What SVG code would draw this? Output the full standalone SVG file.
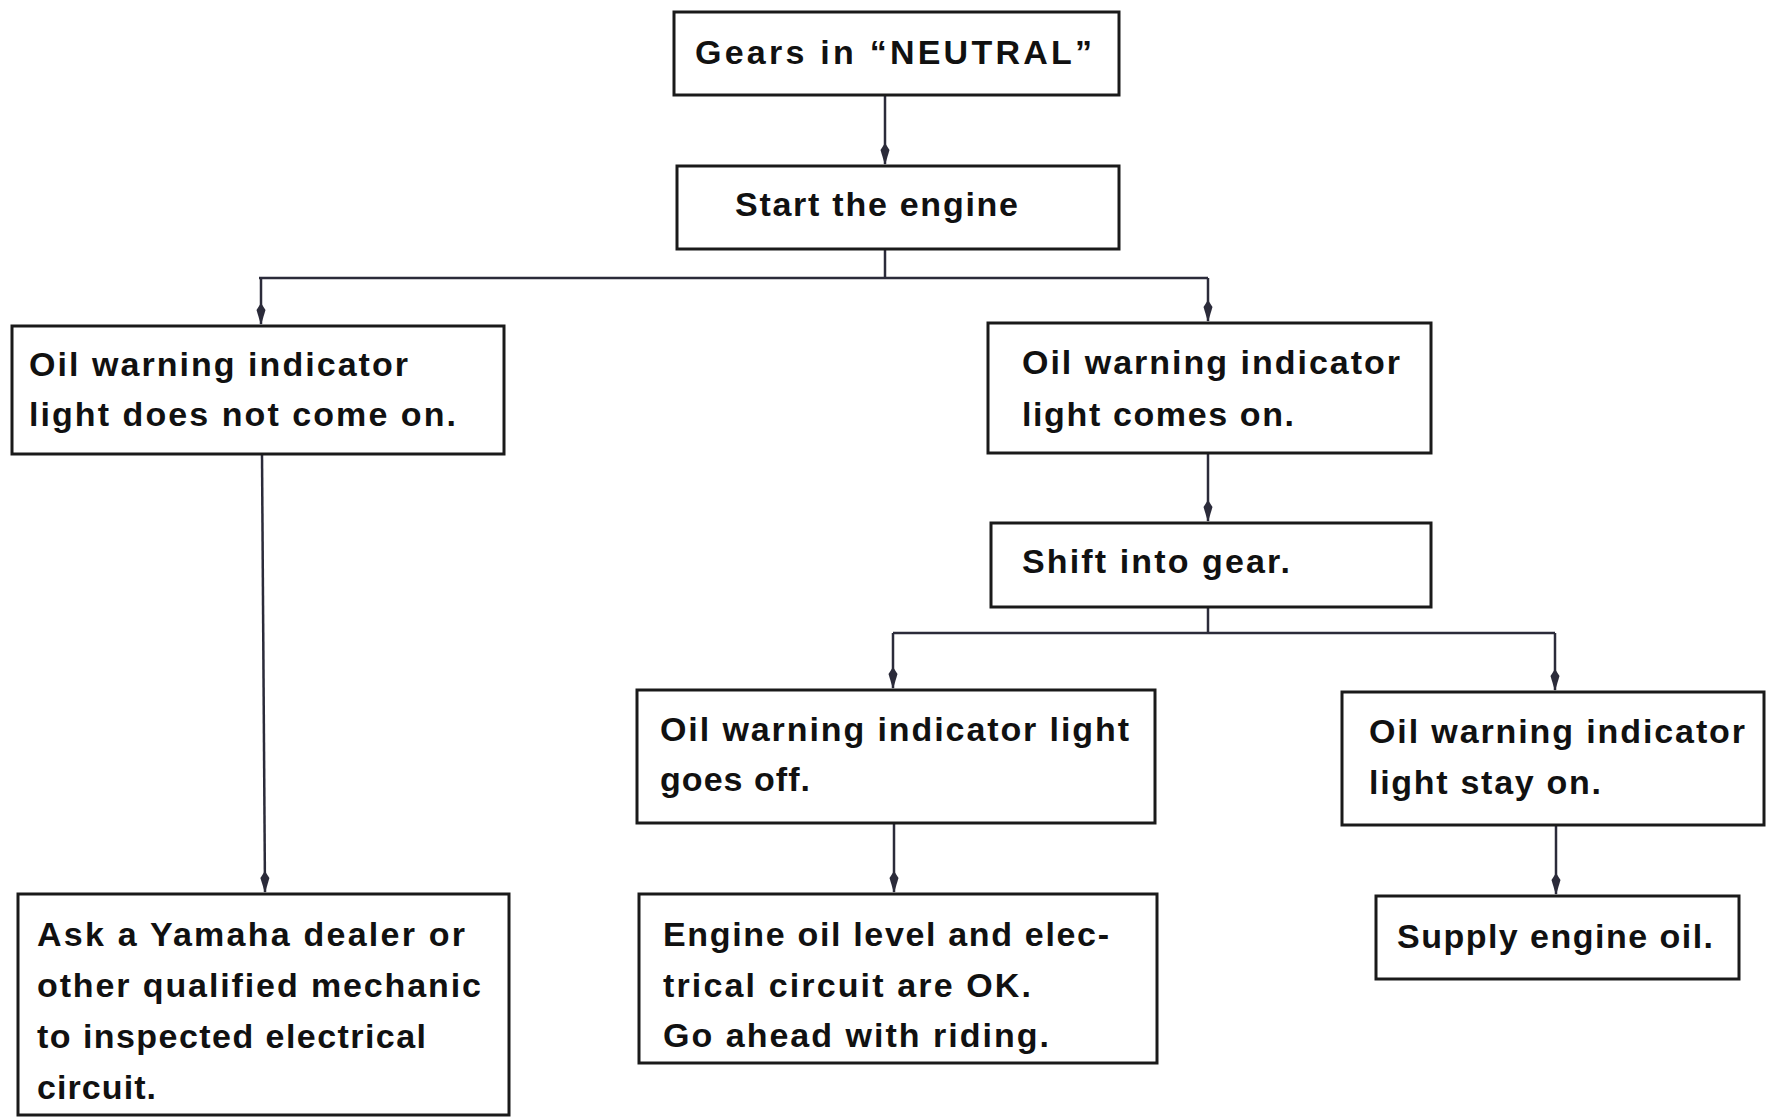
<svg xmlns="http://www.w3.org/2000/svg" width="1767" height="1117" viewBox="0 0 1767 1117">
  <style>
    .box { fill: #ffffff; stroke: #1a1a1a; stroke-width: 3; }
    .t { font-family: "Liberation Sans", Arial, sans-serif; font-weight: bold; font-size: 34px; fill: #111111; }
    .c { fill: none; stroke: #2b2b3a; stroke-width: 2.5; }
  </style>
  <defs>
    <marker id="arr" viewBox="0 0 22 10" refX="21" refY="5" markerWidth="22" markerHeight="10" markerUnits="userSpaceOnUse" orient="auto">
      <path d="M0,5 L7,0.5 L22,5 L7,9.5 z" fill="#2b2b3a"/>
    </marker>
  </defs>
  <rect width="1767" height="1117" fill="#ffffff"/>

  <g id="connectors">
    <line class="c" x1="885" y1="95" x2="885" y2="164" marker-end="url(#arr)"/>
    <polyline class="c" points="885,249 885,278"/>
    <line class="c" x1="259" y1="278" x2="1208" y2="278"/>
    <line class="c" x1="261" y1="278" x2="261" y2="324" marker-end="url(#arr)"/>
    <line class="c" x1="1208" y1="278" x2="1208" y2="321" marker-end="url(#arr)"/>
    <line class="c" x1="262" y1="454" x2="265" y2="892" marker-end="url(#arr)"/>
    <line class="c" x1="1208" y1="453" x2="1208" y2="521" marker-end="url(#arr)"/>
    <line class="c" x1="1208" y1="607" x2="1208" y2="633"/>
    <line class="c" x1="893" y1="633" x2="1555" y2="633"/>
    <line class="c" x1="893" y1="633" x2="893" y2="688" marker-end="url(#arr)"/>
    <line class="c" x1="1555" y1="633" x2="1555" y2="690" marker-end="url(#arr)"/>
    <line class="c" x1="894" y1="823" x2="894" y2="892" marker-end="url(#arr)"/>
    <line class="c" x1="1556" y1="825" x2="1556" y2="894" marker-end="url(#arr)"/>
  </g>

  <g id="n-gears">
    <rect class="box" x="674" y="12" width="445" height="83"/>
    <text class="t" x="695" y="64" textLength="397" lengthAdjust="spacing">Gears in “NEUTRAL”</text>
  </g>

  <g id="n-start">
    <rect class="box" x="677" y="166" width="442" height="83"/>
    <text class="t" x="735" y="216" textLength="283" lengthAdjust="spacing">Start the engine</text>
  </g>

  <g id="n-no-light">
    <rect class="box" x="12" y="326" width="492" height="128"/>
    <text class="t" x="29" y="376" textLength="379" lengthAdjust="spacing">Oil warning indicator</text>
    <text class="t" x="29" y="426" textLength="427" lengthAdjust="spacing">light does not come on.</text>
  </g>

  <g id="n-light-on">
    <rect class="box" x="988" y="323" width="443" height="130"/>
    <text class="t" x="1022" y="374" textLength="378" lengthAdjust="spacing">Oil warning indicator</text>
    <text class="t" x="1022" y="426" textLength="272" lengthAdjust="spacing">light comes on.</text>
  </g>

  <g id="n-shift">
    <rect class="box" x="991" y="523" width="440" height="84"/>
    <text class="t" x="1022" y="573" textLength="268" lengthAdjust="spacing">Shift into gear.</text>
  </g>

  <g id="n-goes-off">
    <rect class="box" x="637" y="690" width="518" height="133"/>
    <text class="t" x="660" y="741" textLength="469" lengthAdjust="spacing">Oil warning indicator light</text>
    <text class="t" x="660" y="791" textLength="150" lengthAdjust="spacing">goes off.</text>
  </g>

  <g id="n-stay-on">
    <rect class="box" x="1342" y="692" width="422" height="133"/>
    <text class="t" x="1369" y="743" textLength="376" lengthAdjust="spacing">Oil warning indicator</text>
    <text class="t" x="1369" y="794" textLength="232" lengthAdjust="spacing">light stay on.</text>
  </g>

  <g id="n-supply">
    <rect class="box" x="1376" y="896" width="363" height="83"/>
    <text class="t" x="1397" y="948" textLength="316" lengthAdjust="spacing">Supply engine oil.</text>
  </g>

  <g id="n-ask">
    <rect class="box" x="18" y="894" width="491" height="221"/>
    <text class="t" x="37" y="946" textLength="428" lengthAdjust="spacing">Ask a Yamaha dealer or</text>
    <text class="t" x="37" y="997" textLength="444" lengthAdjust="spacing">other qualified mechanic</text>
    <text class="t" x="37" y="1048" textLength="389" lengthAdjust="spacing">to inspected electrical</text>
    <text class="t" x="37" y="1099" textLength="119" lengthAdjust="spacing">circuit.</text>
  </g>

  <g id="n-engine-ok">
    <rect class="box" x="639" y="894" width="518" height="169"/>
    <text class="t" x="663" y="946" textLength="446" lengthAdjust="spacing">Engine oil level and elec-</text>
    <text class="t" x="663" y="997" textLength="368" lengthAdjust="spacing">trical circuit are OK.</text>
    <text class="t" x="663" y="1047" textLength="386" lengthAdjust="spacing">Go ahead with riding.</text>
  </g>
</svg>
